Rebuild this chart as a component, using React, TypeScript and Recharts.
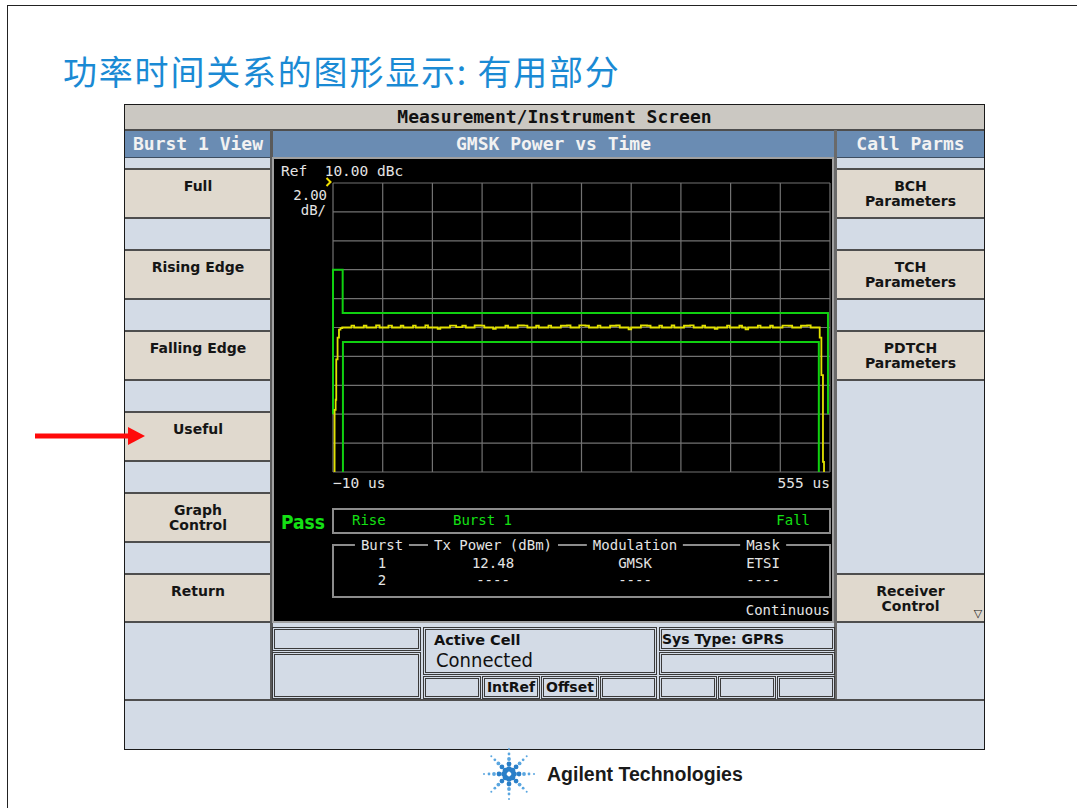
import type { CSSProperties, ReactNode } from 'react';
import { LineChart, Line, XAxis, YAxis, CartesianGrid } from 'recharts';

// grid: 10 divisions across -10..555 us, 2 dB/div below the 10 dBc reference
const xGridTicks = [-10, 46.5, 103, 159.5, 216, 272.5, 329, 385.5, 442, 498.5, 555];
const yGridTicks = [-10, -8, -6, -4, -2, 0, 2, 4, 6, 8, 10];
const xTickLabels: Record<number, string> = { [-10]: '\u221210 us', 555: '555 us' };

const upperMask = [
  { t: -10, v: -6 }, { t: -10, v: 4 }, { t: 1, v: 4 }, { t: 1, v: 1 },
  { t: 552.7, v: 1 }, { t: 552.7, v: -6 },
];
const lowerMask = [
  { t: 1.3, v: -10 }, { t: 1.3, v: -1 }, { t: 542.3, v: -1 }, { t: 542.3, v: -10 },
];

const riseEdge = [
  { t: -8.2, v: -10 }, { t: -8.2, v: -5.7 }, { t: -7, v: -5.7 }, { t: -7, v: -5 },
  { t: -6.3, v: -5 }, { t: -6.3, v: -2.2 }, { t: -4.8, v: -2.2 }, { t: -4.8, v: -0.7 },
  { t: -3.2, v: -0.7 }, { t: -3.2, v: -0.15 }, { t: -1.5, v: -0.05 }, { t: 0.5, v: 0 },
];
const usefulPart = [
  { t: 4, v: 0 }, { t: 11, v: 0.13 }, { t: 14, v: 0 }, { t: 25, v: 0.12 }, { t: 28, v: 0 },
  { t: 39, v: 0.14 }, { t: 43, v: 0 }, { t: 53, v: 0.13 }, { t: 57, v: 0 }, { t: 67, v: 0.12 },
  { t: 70, v: 0 }, { t: 81, v: 0.13 }, { t: 84, v: 0 }, { t: 95, v: 0.15 }, { t: 98, v: 0 },
  { t: 109, v: -0.1 }, { t: 112, v: 0 }, { t: 123, v: 0.13 }, { t: 130, v: 0.02 }, { t: 137, v: 0.12 },
  { t: 141, v: 0 }, { t: 151, v: 0.14 }, { t: 158, v: 0.13 }, { t: 162, v: 0 }, { t: 172, v: -0.1 },
  { t: 175, v: 0 }, { t: 186, v: 0.12 }, { t: 189, v: 0 }, { t: 200, v: 0.14 }, { t: 207, v: 0.13 },
  { t: 211, v: 0 }, { t: 221, v: 0.12 }, { t: 224, v: 0 }, { t: 235, v: 0.13 }, { t: 238, v: 0 },
  { t: 249, v: 0.12 }, { t: 256, v: 0.14 }, { t: 260, v: 0 }, { t: 270, v: 0.15 }, { t: 277, v: 0.12 },
  { t: 281, v: 0 }, { t: 291, v: 0.13 }, { t: 294, v: 0 }, { t: 305, v: 0.12 }, { t: 312, v: 0.14 },
  { t: 316, v: 0 }, { t: 326, v: -0.12 }, { t: 329, v: 0 }, { t: 340, v: 0.14 }, { t: 347, v: 0.12 },
  { t: 351, v: 0 }, { t: 361, v: 0.13 }, { t: 364, v: 0 }, { t: 375, v: 0.14 }, { t: 378, v: 0 },
  { t: 389, v: 0.12 }, { t: 396, v: 0.15 }, { t: 400, v: 0 }, { t: 410, v: 0.12 }, { t: 413, v: 0 },
  { t: 424, v: -0.1 }, { t: 427, v: 0 }, { t: 438, v: 0.13 }, { t: 441, v: 0 }, { t: 452, v: 0.12 },
  { t: 455, v: 0 }, { t: 459, v: -0.12 }, { t: 462, v: 0 }, { t: 473, v: 0.13 }, { t: 476, v: 0 },
  { t: 487, v: 0.12 }, { t: 490, v: 0 }, { t: 501, v: 0.13 }, { t: 508, v: 0.12 }, { t: 512, v: 0 },
  { t: 522, v: 0.12 }, { t: 529, v: 0.14 }, { t: 533, v: 0 }, { t: 536, v: 0 },
];
const fallEdge = [
  { t: 542.5, v: 0 }, { t: 543.3, v: 0 }, { t: 543.3, v: -0.7 }, { t: 545.2, v: -0.7 },
  { t: 545.2, v: -3.3 }, { t: 547, v: -3.3 }, { t: 547, v: -9.3 }, { t: 548.2, v: -9.3 },
  { t: 548.2, v: -10 },
];
const burstTrace = [...riseEdge, ...usefulPart, ...fallEdge];

const tableHeads = ['Burst', 'Tx Power (dBm)', 'Modulation', 'Mask'];
const burstRows = [
  ['1', '12.48', 'GMSK', 'ETSI'],
  ['2', '----', '----', '----'],
];
const tableCols = [382, 493, 635, 763];

const leftKeys = [
  { y: 168, lines: ['Full'] },
  { y: 249, lines: ['Rising Edge'] },
  { y: 330, lines: ['Falling Edge'] },
  { y: 411, lines: ['Useful'] },
  { y: 492, lines: ['Graph', 'Control'] },
  { y: 573, lines: ['Return'] },
];
const rightKeys = [
  { y: 168, lines: ['BCH', 'Parameters'] },
  { y: 249, lines: ['TCH', 'Parameters'] },
  { y: 330, lines: ['PDTCH', 'Parameters'] },
  { y: 573, lines: ['Receiver', 'Control'] },
];

const MONO = '"DejaVu Sans Mono", "Liberation Mono", monospace';
const KEYFONT = '"DejaVu Sans", sans-serif';
const CONDFONT = '"DejaVu Sans Condensed", "DejaVu Sans", sans-serif';
const GREEN = '#14e014';
const LIGHT = '#d3dbe6';
const BEIGE = '#e0d9ce';
const HEAD = '#6a8cb3';

type BoxProps = { x: number; y: number; w: number; h: number; style?: CSSProperties; children?: ReactNode };
function Box({ x, y, w, h, style, children }: BoxProps) {
  return (
    <div style={{ position: 'absolute', left: x, top: y, width: w, height: h, boxSizing: 'border-box', ...style }}>
      {children}
    </div>
  );
}

type LabelProps = { x: number; y: number; align?: 'left' | 'center' | 'right'; style?: CSSProperties; children?: ReactNode };
function Label({ x, y, align = 'left', style, children }: LabelProps) {
  const tx = align === 'center' ? '-50%' : align === 'right' ? '-100%' : '0';
  return (
    <div style={{ position: 'absolute', left: x, top: y, transform: `translate(${tx}, -50%)`, whiteSpace: 'pre', lineHeight: 1, ...style }}>
      {children}
    </div>
  );
}

function SoftKey({ x, y, w, h, lines }: { x: number; y: number; w: number; h: number; lines: string[] }) {
  return (
    <Box x={x} y={y} w={w} h={h} style={{ background: BEIGE, borderTop: '2px solid #4e4e4e', borderBottom: '2px solid #4e4e4e', textAlign: 'center', paddingTop: 9, fontFamily: KEYFONT, fontWeight: 700, fontSize: 14, lineHeight: '15px', color: '#151515' }}>
      {lines.map((l) => <div key={l}>{l}</div>)}
    </Box>
  );
}

function TimeTick({ x, y, payload }: any) {
  const label = xTickLabels[payload.value];
  if (!label) return <g />;
  return (
    <text x={x} y={y} dy={8} textAnchor={payload.value < 0 ? 'start' : 'end'} fill="#e4e4e4" fontFamily={MONO} fontSize={14.5}>
      {label}
    </text>
  );
}

const statusBox: CSSProperties = { border: '3px double #3a3a3a', background: LIGHT };
const statusText: CSSProperties = { fontFamily: KEYFONT, fontWeight: 700, fontSize: 14, color: '#111' };

function AgilentSpark() {
  const dots: ReactNode[] = [];
  const radii = [5, 10, 15, 20, 25];
  const sizes = [2.8, 2.4, 1.9, 1.4, 1];
  for (let a = 0; a < 8; a++) {
    const ang = (a * Math.PI) / 4;
    radii.forEach((r, i) => {
      dots.push(<circle key={`${a}-${i}`} cx={30 + r * Math.cos(ang)} cy={30 + r * Math.sin(ang)} r={sizes[i]} fill={i < 2 ? '#2a7fc8' : '#5aa6e0'} />);
    });
  }
  return (
    <svg width={60} height={60} style={{ position: 'absolute', left: 479, top: 744 }}>
      {dots}
    </svg>
  );
}

export default function App() {
  return (
    <div style={{ position: 'absolute', left: 0, top: 0, width: 1077, height: 808, background: '#fff', overflow: 'hidden' }}>
      {/* slide frame */}
      <Box x={7} y={5} w={1100} h={820} style={{ borderTop: '1px solid #222', borderLeft: '1px solid #222' }} />

      <Label x={63} y={71} style={{ fontFamily: '"Noto Sans CJK SC", sans-serif', fontSize: 34, letterSpacing: 1.8, color: '#1a8ad4' }}>
        功率时间关系的图形显示: 有用部分
      </Label>

      {/* instrument panel */}
      <Box x={124} y={104} w={861} h={646} style={{ background: LIGHT, border: '1px solid #1a1a1a' }} />
      <Box x={125} y={105} w={859} h={26} style={{ background: '#cbc8c2', borderBottom: '2px solid #4e4e4e', textAlign: 'center', fontFamily: MONO, fontWeight: 700, fontSize: 18, lineHeight: '24px', color: '#111' }}>
        Measurement/Instrument Screen
      </Box>

      {/* left column */}
      <Box x={125} y={131} w={146} h={27} style={{ background: HEAD, borderBottom: '1px solid #3d4d60', textAlign: 'center', fontFamily: MONO, fontWeight: 700, fontSize: 18, lineHeight: '26px', color: '#f2f2f2' }}>
        Burst 1 View
      </Box>
      {leftKeys.map((k) => (
        <SoftKey key={k.lines.join()} x={125} y={k.y} w={146} h={k.y === 573 ? 50 : 51} lines={k.lines} />
      ))}
      <Box x={270} y={130} w={3} h={571} style={{ background: '#5a5a5a' }} />

      {/* right column */}
      <Box x={837} y={131} w={147} h={27} style={{ background: HEAD, borderBottom: '1px solid #3d4d60', textAlign: 'center', fontFamily: MONO, fontWeight: 700, fontSize: 18, lineHeight: '26px', color: '#f2f2f2' }}>
        Call Parms
      </Box>
      {rightKeys.map((k) => (
        <SoftKey key={k.lines.join()} x={837} y={k.y} w={147} h={k.y === 573 ? 50 : 51} lines={k.lines} />
      ))}
      <Label x={978} y={613} align="center" style={{ fontSize: 11, color: '#222', fontFamily: '"DejaVu Sans", sans-serif' }}>▽</Label>
      <Box x={834} y={130} w={3} h={571} style={{ background: '#6a6a6a' }} />

      {/* centre header + screen */}
      <Box x={273} y={131} w={561} h={26} style={{ background: HEAD, textAlign: 'center', fontFamily: MONO, fontWeight: 700, fontSize: 18, lineHeight: '26px', color: '#f2f2f2' }}>
        GMSK Power vs Time
      </Box>
      <Box x={272} y={157} w={562} h={466} style={{ background: '#000', border: '2px solid #a0a0a0' }} />

      <Label x={281} y={171} style={{ fontFamily: MONO, fontSize: 14.5, color: '#e4e4e4' }}>Ref  10.00 dBc</Label>
      <Label x={327} y={195} align="right" style={{ fontFamily: MONO, fontSize: 14, color: '#e4e4e4' }}>2.00</Label>
      <Label x={326} y={210} align="right" style={{ fontFamily: MONO, fontSize: 14, color: '#e4e4e4' }}>dB/</Label>
      <svg width={8} height={11} style={{ position: 'absolute', left: 325, top: 177 }}>
        <polyline points="1.5,1 5.5,5 1.5,9" fill="none" stroke="#f0e000" strokeWidth={2} />
      </svg>

      <div style={{ position: 'absolute', left: 274, top: 158 }}>
        <LineChart width={559} height={338} margin={{ top: 25, right: 3, left: 59, bottom: 0 }}>
          <CartesianGrid stroke="#727272" strokeWidth={1.2} />
          <XAxis
            dataKey="t"
            type="number"
            domain={[-10, 555]}
            ticks={xGridTicks}
            interval={0}
            axisLine={false}
            tickLine={false}
            height={24}
            tick={<TimeTick />}
          />
          <YAxis type="number" domain={[-10, 10]} ticks={yGridTicks} hide />
          <Line data={upperMask} dataKey="v" type="linear" stroke="#10d010" strokeWidth={2} dot={false} isAnimationActive={false} />
          <Line data={lowerMask} dataKey="v" type="linear" stroke="#10d010" strokeWidth={2} dot={false} isAnimationActive={false} />
          <Line data={burstTrace} dataKey="v" type="stepAfter" stroke="#e2e200" strokeWidth={1.8} dot={false} isAnimationActive={false} />
        </LineChart>
      </div>

      {/* pass / fail strip */}
      <Label x={281} y={522} style={{ fontFamily: CONDFONT, fontWeight: 700, fontSize: 19, color: GREEN }}>Pass</Label>
      <Box x={332} y={508} w={499} h={26} style={{ border: '2px solid #8c8c8c' }} />
      <Label x={352} y={520} style={{ fontFamily: MONO, fontSize: 14, color: GREEN }}>Rise</Label>
      <Label x={453} y={520} style={{ fontFamily: MONO, fontSize: 14, color: GREEN }}>Burst 1</Label>
      <Label x={810} y={520} align="right" style={{ fontFamily: MONO, fontSize: 14, color: GREEN }}>Fall</Label>

      {/* burst table */}
      <Box x={332} y={544} w={499} h={54} style={{ border: '2px solid #8c8c8c' }} />
      {tableHeads.map((h, i) => (
        <Label key={h} x={tableCols[i]} y={545} align="center" style={{ fontFamily: MONO, fontSize: 14, color: '#e4e4e4', background: '#000', padding: '1px 6px' }}>
          {h}
        </Label>
      ))}
      {burstRows.map((row, r) =>
        row.map((c, i) => (
          <Label key={`${r}-${i}`} x={tableCols[i]} y={563 + r * 17} align="center" style={{ fontFamily: MONO, fontSize: 14, color: '#e4e4e4' }}>
            {c}
          </Label>
        )),
      )}
      <Label x={830} y={610} align="right" style={{ fontFamily: MONO, fontSize: 14, color: '#e4e4e4' }}>Continuous</Label>

      {/* status boxes */}
      <Box x={272} y={627} w={149} h={24} style={statusBox} />
      <Box x={272} y={652} w={149} h={47} style={statusBox} />
      <Box x={423} y={627} w={234} h={48} style={statusBox} />
      <Label x={434} y={640} style={{ ...statusText, fontSize: 14.5 }}>Active Cell</Label>
      <Label x={436} y={660} style={{ fontFamily: CONDFONT, fontSize: 20, color: '#111', fontWeight: 500 }}>Connected</Label>
      <Box x={423} y={676} w={58} h={23} style={statusBox} />
      <Box x={482} y={676} w={58} h={23} style={{ ...statusBox, ...statusText, textAlign: 'center', lineHeight: '17px' }}>IntRef</Box>
      <Box x={541} y={676} w={58} h={23} style={{ ...statusBox, ...statusText, textAlign: 'center', lineHeight: '17px' }}>Offset</Box>
      <Box x={600} y={676} w={57} h={23} style={statusBox} />
      <Box x={659} y={627} w={176} h={24} style={statusBox} />
      <Label x={662} y={639} style={statusText}>Sys Type: GPRS</Label>
      <Box x={659} y={652} w={176} h={23} style={statusBox} />
      <Box x={659} y={676} w={58} h={23} style={statusBox} />
      <Box x={718} y={676} w={58} h={23} style={statusBox} />
      <Box x={777} y={676} w={58} h={23} style={statusBox} />

      <Box x={125} y={699} w={859} h={50} style={{ background: LIGHT, borderTop: '2px solid #4e4e4e' }} />

      {/* red arrow pointing at "Useful" */}
      <svg width={120} height={32} style={{ position: 'absolute', left: 30, top: 420 }}>
        <rect x={5} y={13.5} width={95} height={5} fill="#ff0a0a" />
        <polygon points="98,7 115,16 98,25" fill="#ff0a0a" />
      </svg>

      <AgilentSpark />
      <Label x={547} y={775} style={{ fontFamily: '"Liberation Sans", Arial, sans-serif', fontWeight: 700, fontSize: 19.5, color: '#1a1a1a' }}>
        Agilent Technologies
      </Label>
    </div>
  );
}
